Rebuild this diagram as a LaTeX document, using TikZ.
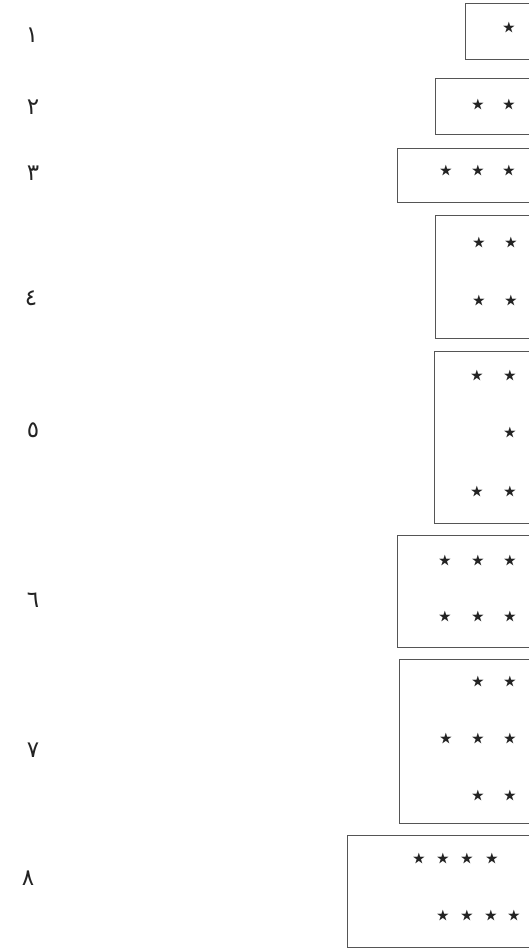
\documentclass[tikz,border=0pt]{standalone}
\usepackage{fontspec}
\usepackage{tikz}
\usetikzlibrary{positioning}
\newfontfamily\arabicfont[Script=Arabic]{DejaVu Sans}
\definecolor{boxgray}{RGB}{85,85,85}
\definecolor{inkgray}{RGB}{35,35,35}
\tikzset{
  groupbox/.style={draw=boxgray, line width=1.3pt, anchor=north west, inner sep=0pt},
  numlabel/.style={font=\arabicfont\fontsize{23}{26}\selectfont, text=inkgray, inner sep=0pt},
  starmark/.style={font=\arabicfont\fontsize{25}{27}\selectfont, text=inkgray, inner sep=0pt}
}
\newcommand{\boxfrom}[4]{% name, left, top, bottom
  \node[groupbox, minimum width=540-#2, minimum height=#4-#3] (#1) at (#2,#3) {};}
\begin{document}
\begin{tikzpicture}[x=1pt,y=-1pt]
\useasboundingbox (0,0) rectangle (529,948);

% boxes, open at the right edge
\boxfrom{b1}{465}{3}{59}
\boxfrom{b2}{435}{78}{134}
\boxfrom{b3}{397}{148}{202}
\boxfrom{b4}{435}{215}{338}
\boxfrom{b5}{434}{351}{523}
\boxfrom{b6}{397}{535}{647}
\boxfrom{b7}{399}{659}{823}
\boxfrom{b8}{347}{835}{947}

% numbers
\node[numlabel] (n1) at (32,35) {١};
\node[numlabel] (n2) at (33,107) {٢};
\node[numlabel] (n3) at (33,173) {٣};
\node[numlabel] (n4) at (31,298) {٤};
\node[numlabel] (n5) at (33,430) {٥};
\node[numlabel] (n6) at (33,600) {٦};
\node[numlabel] (n7) at (33,750) {٧};
\node[numlabel] (n8) at (28,878) {٨};

% stars
\foreach \x/\y [count=\i] in {
  509/29,
  478/106, 509/106,
  446/172, 478/172, 509/172,
  479/244, 511/244, 479/302, 511/302,
  477/377, 510/377, 510/434, 477/493, 510/493,
  445/562, 478/562, 510/562, 445/618, 478/618, 510/618,
  478/683, 510/683, 446/740, 478/740, 510/740, 478/797, 510/797,
  419/860, 443/860, 467/860, 492/860, 443/917, 467/917, 491/917, 514/917}
  \node[starmark] (s\i) at (\x,\y) {٭};
\end{tikzpicture}
\end{document}
